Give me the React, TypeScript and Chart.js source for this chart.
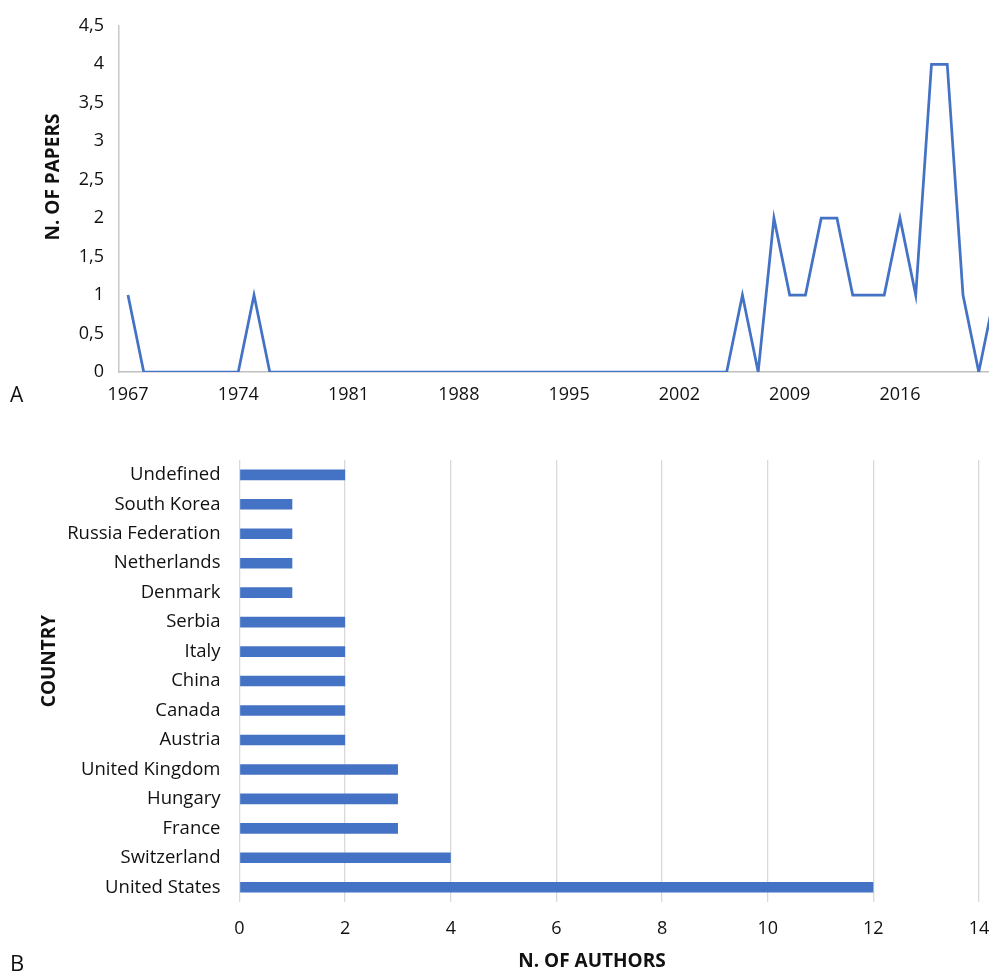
import React, { useEffect, useRef } from 'react';
import { Chart, registerables } from 'chart.js';

Chart.register(...registerables);

// ---------- Data ----------
const YEARS = [
  1967, 1968, 1969, 1970, 1971, 1972, 1973, 1974, 1975, 1976,
  1977, 1978, 1979, 1980, 1981, 1982, 1983, 1984, 1985, 1986,
  1987, 1988, 1989, 1990, 1991, 1992, 1993, 1994, 1995, 1996,
  1997, 1998, 1999, 2000, 2001, 2002, 2003, 2004, 2005, 2006,
  2007, 2008, 2009, 2010, 2011, 2012, 2013, 2014, 2015, 2016,
  2017, 2018, 2019, 2020, 2021, 2022,
];
const PAPERS = [
  1, 0, 0, 0, 0, 0, 0, 0, 1, 0,
  0, 0, 0, 0, 0, 0, 0, 0, 0, 0,
  0, 0, 0, 0, 0, 0, 0, 0, 0, 0,
  0, 0, 0, 0, 0, 0, 0, 0, 0, 1,
  0, 2, 1, 1, 2, 2, 1, 1, 1, 2,
  1, 4, 4, 1, 0, 1,
];
const YEAR_TICKS = [1967, 1974, 1981, 1988, 1995, 2002, 2009, 2016];

const COUNTRIES = [
  'Undefined', 'South Korea', 'Russia Federation', 'Netherlands', 'Denmark',
  'Serbia', 'Italy', 'China', 'Canada', 'Austria',
  'United Kingdom', 'Hungary', 'France', 'Switzerland', 'United States',
];
const AUTHORS = [2, 1, 1, 1, 1, 2, 2, 2, 2, 2, 3, 3, 3, 4, 12];

// ---------- Styles ----------
const BLUE = '#4472C4';
const FONT = "'Open Sans', sans-serif";
const TEXT = '#111111';

type FreeText = {
  text: string; x: number; y: number; font: string;
  rotation?: number; align?: CanvasTextAlign; baseline?: CanvasTextBaseline;
};

function freeTextPlugin(items: FreeText[]) {
  return {
    id: 'freeText',
    afterDraw(chart: any) {
      const ctx: CanvasRenderingContext2D = chart.ctx;
      for (const t of items) {
        ctx.save();
        ctx.font = t.font;
        ctx.fillStyle = TEXT;
        ctx.textAlign = t.align || 'center';
        ctx.textBaseline = t.baseline || 'middle';
        ctx.translate(t.x, t.y);
        if (t.rotation) ctx.rotate(t.rotation);
        ctx.fillText(t.text, 0, 0);
        ctx.restore();
      }
    },
  };
}

function LineChart() {
  const ref = useRef<HTMLCanvasElement | null>(null);
  useEffect(() => {
    if (!ref.current) return;
    const chart = new Chart(ref.current, {
      type: 'line',
      data: {
        datasets: [{
          data: YEARS.map((x, i) => ({ x, y: PAPERS[i] })),
          borderColor: BLUE,
          borderWidth: 2.75,
          pointRadius: 0,
          tension: 0,
          fill: false,
        }],
      },
      options: {
        animation: false,
        responsive: true,
        maintainAspectRatio: false,
        layout: { padding: { top: 23, left: 0, right: 0, bottom: 0 } },
        plugins: { legend: { display: false }, tooltip: { enabled: false } },
        scales: {
          x: {
            type: 'linear',
            min: 1966.43,
            max: 2021.65,
            grid: { display: false, drawTicks: false },
            border: { display: true, color: '#bfbfbf', width: 1.5 },
            afterBuildTicks: (s: any) => { s.ticks = YEAR_TICKS.map((v) => ({ value: v })); },
            afterFit: (s: any) => { s.height = 38; },
            ticks: {
              autoSkip: false, maxRotation: 0, padding: 12, color: TEXT,
              font: { family: FONT, size: 18 },
              callback: (v: any) => String(v),
            },
          },
          y: {
            min: 0,
            max: 4.5,
            grid: { display: false, drawTicks: false },
            border: { display: true, color: '#c8c8c8', width: 1.5 },
            afterFit: (s: any) => { s.width = 119; },
            ticks: {
              stepSize: 0.5, padding: 15, color: TEXT,
              font: { family: FONT, size: 18 },
              callback: (v: any) => String(v).replace('.', ','),
            },
          },
        },
      } as any,
      plugins: [freeTextPlugin([
        { text: 'N. OF PAPERS', x: 54, y: 177, font: `bold 19px ${FONT}`, rotation: -Math.PI / 2 },
        { text: 'A', x: 10, y: 402, font: `21px ${FONT}`, align: 'left', baseline: 'alphabetic' },
      ])],
    });
    return () => chart.destroy();
  }, []);
  return <canvas ref={ref} />;
}

function BarChart() {
  const ref = useRef<HTMLCanvasElement | null>(null);
  useEffect(() => {
    if (!ref.current) return;
    const chart = new Chart(ref.current, {
      type: 'bar',
      data: {
        labels: COUNTRIES,
        datasets: [{
          data: AUTHORS,
          backgroundColor: BLUE,
          barPercentage: 0.36,
          categoryPercentage: 1,
        }],
      },
      options: {
        indexAxis: 'y',
        animation: false,
        responsive: true,
        maintainAspectRatio: false,
        layout: { padding: { top: 10, right: 31, left: 0, bottom: 0 } },
        plugins: { legend: { display: false }, tooltip: { enabled: false } },
        scales: {
          x: {
            min: 0,
            max: 14,
            grid: { color: '#d9d9d9', lineWidth: 1.3, drawTicks: false },
            border: { display: false },
            afterFit: (s: any) => { s.height = 71; },
            ticks: {
              stepSize: 2, padding: 16, color: TEXT,
              font: { family: FONT, size: 18 },
            },
          },
          y: {
            grid: { display: false, drawTicks: false },
            border: { display: false },
            afterFit: (s: any) => { s.width = 239.5; },
            ticks: {
              autoSkip: false, padding: 19, color: TEXT,
              font: { family: FONT, size: 18.5 },
            },
          },
        },
      } as any,
      plugins: [freeTextPlugin([
        { text: 'COUNTRY', x: 50, y: 231, font: `bold 19px ${FONT}`, rotation: -Math.PI / 2 },
        { text: 'N. OF AUTHORS', x: 592, y: 532, font: `bold 19px ${FONT}` },
        { text: 'B', x: 10, y: 541, font: `22px ${FONT}`, align: 'left', baseline: 'alphabetic' },
      ])],
    });
    return () => chart.destroy();
  }, []);
  return <canvas ref={ref} />;
}

export default function App() {
  return (
    <div style={{ position: 'fixed', left: 0, top: 0, width: 989, height: 973, overflow: 'hidden', background: '#fff' }}>
      <div style={{ position: 'absolute', left: 0, top: 0, width: 989, height: 410 }}>
        <LineChart />
      </div>
      <div style={{ position: 'absolute', left: 0, top: 430, width: 1010, height: 543 }}>
        <BarChart />
      </div>
    </div>
  );
}
